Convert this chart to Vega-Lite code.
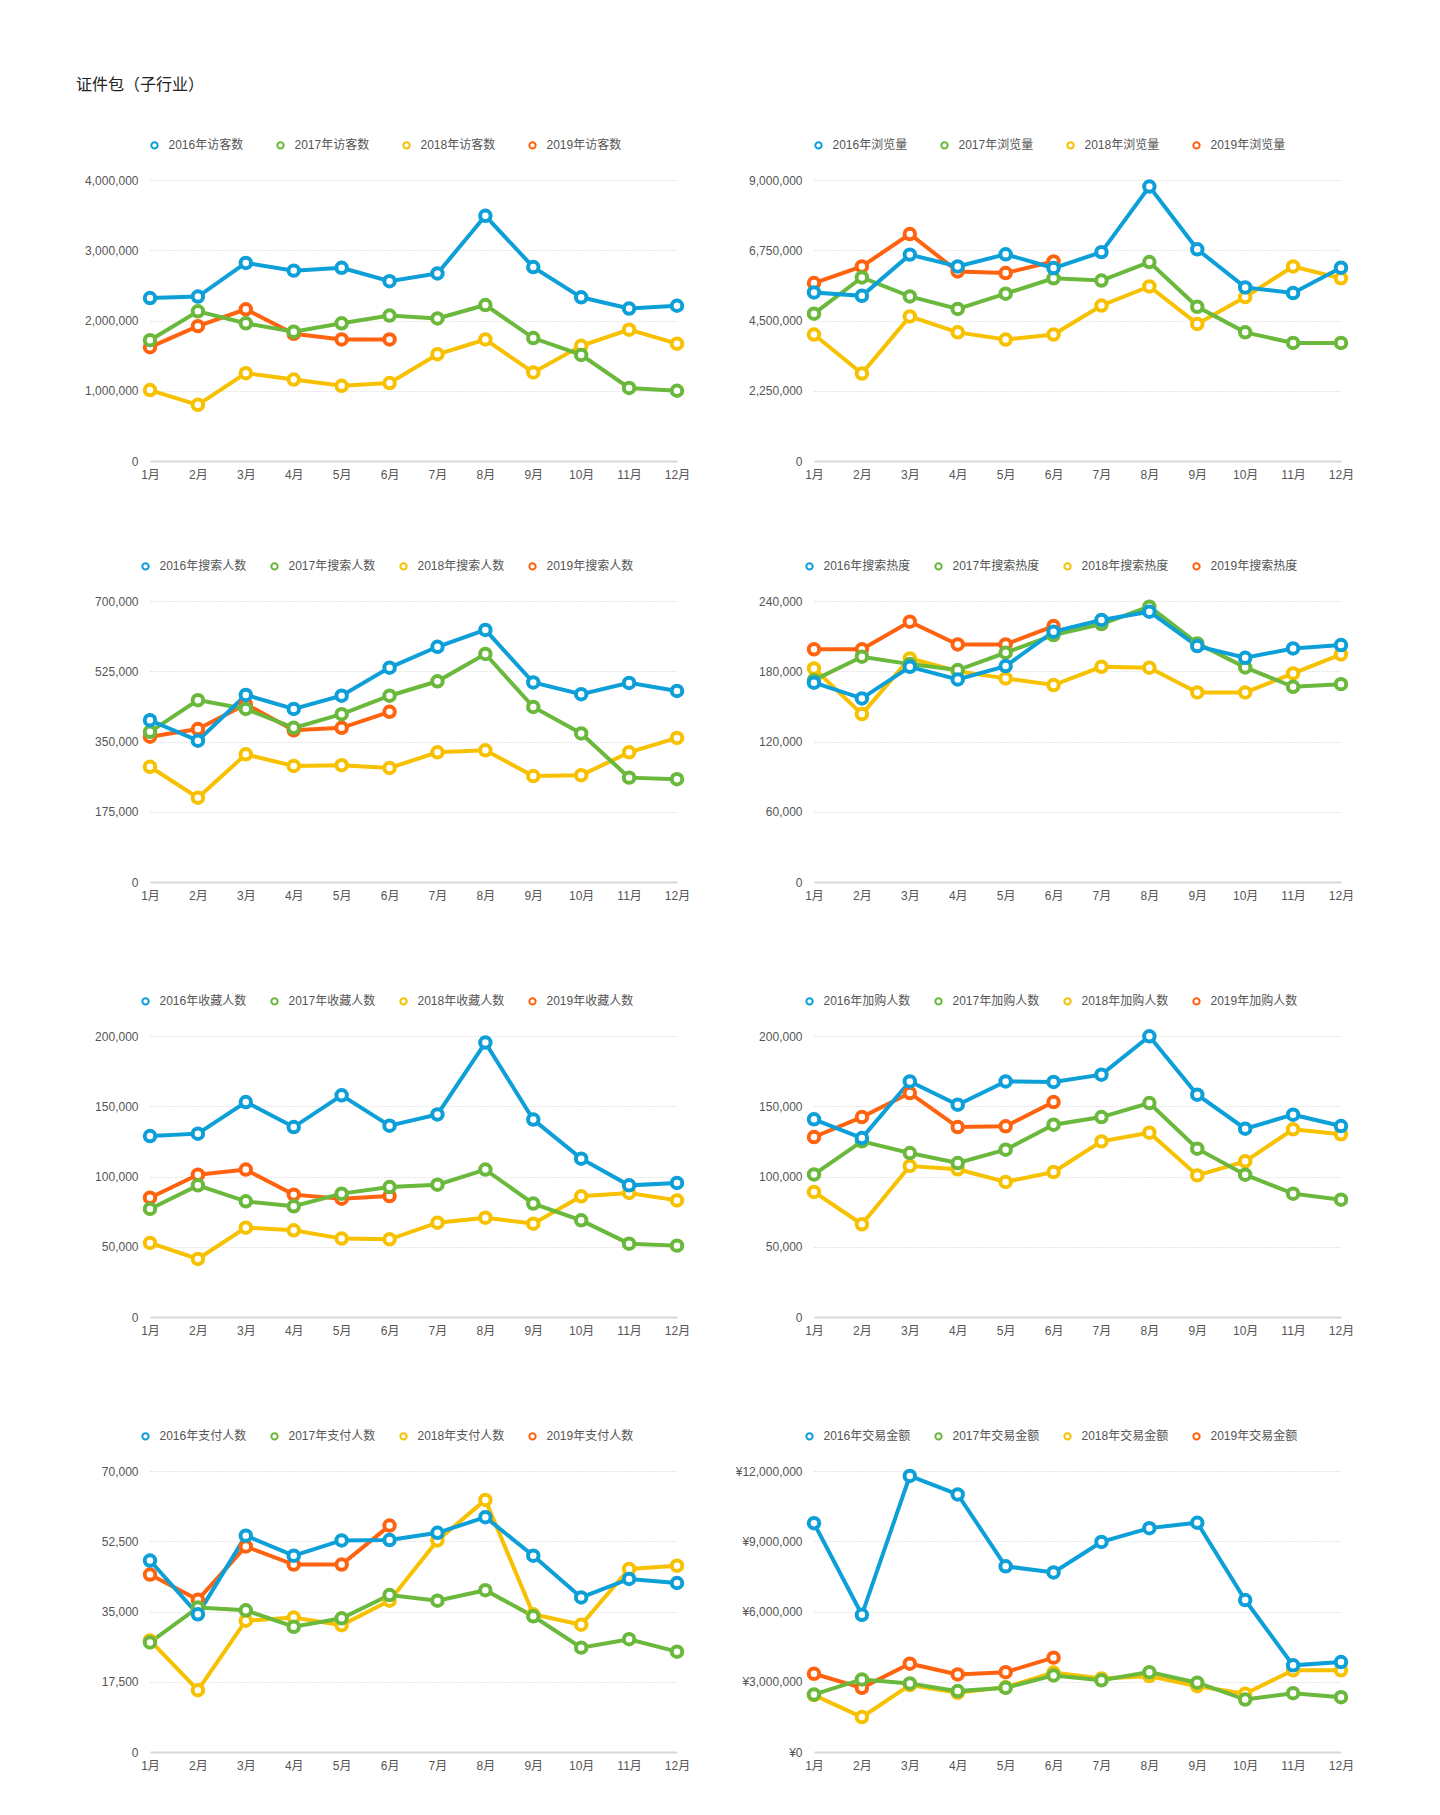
{
"$schema":"https://vega.github.io/schema/vega-lite/v6.json",
"background":"white",
"padding":{"left":76,"top":77,"right":10,"bottom":10},
"title":{"text":"证件包（子行业）","anchor":"start","frame":"group","fontSize":16,"fontWeight":"normal","color":"#222","offset":46,"dx":-74},
"datasets":{"d":[
{"chart":1,"series":"2019年访客数","month":1,"value":1620000},{"chart":1,"series":"2019年访客数","month":2,"value":1920000},{"chart":1,"series":"2019年访客数","month":3,"value":2160000},{"chart":1,"series":"2019年访客数","month":4,"value":1810000},{"chart":1,"series":"2019年访客数","month":5,"value":1730000},{"chart":1,"series":"2019年访客数","month":6,"value":1730000},
{"chart":1,"series":"2018年访客数","month":1,"value":1010000},{"chart":1,"series":"2018年访客数","month":2,"value":800000},{"chart":1,"series":"2018年访客数","month":3,"value":1250000},{"chart":1,"series":"2018年访客数","month":4,"value":1160000},{"chart":1,"series":"2018年访客数","month":5,"value":1070000},{"chart":1,"series":"2018年访客数","month":6,"value":1110000},{"chart":1,"series":"2018年访客数","month":7,"value":1520000},{"chart":1,"series":"2018年访客数","month":8,"value":1730000},{"chart":1,"series":"2018年访客数","month":9,"value":1260000},{"chart":1,"series":"2018年访客数","month":10,"value":1640000},{"chart":1,"series":"2018年访客数","month":11,"value":1870000},{"chart":1,"series":"2018年访客数","month":12,"value":1670000},
{"chart":1,"series":"2017年访客数","month":1,"value":1720000},{"chart":1,"series":"2017年访客数","month":2,"value":2130000},{"chart":1,"series":"2017年访客数","month":3,"value":1960000},{"chart":1,"series":"2017年访客数","month":4,"value":1840000},{"chart":1,"series":"2017年访客数","month":5,"value":1960000},{"chart":1,"series":"2017年访客数","month":6,"value":2070000},{"chart":1,"series":"2017年访客数","month":7,"value":2030000},{"chart":1,"series":"2017年访客数","month":8,"value":2220000},{"chart":1,"series":"2017年访客数","month":9,"value":1750000},{"chart":1,"series":"2017年访客数","month":10,"value":1510000},{"chart":1,"series":"2017年访客数","month":11,"value":1040000},{"chart":1,"series":"2017年访客数","month":12,"value":1000000},
{"chart":1,"series":"2016年访客数","month":1,"value":2320000},{"chart":1,"series":"2016年访客数","month":2,"value":2340000},{"chart":1,"series":"2016年访客数","month":3,"value":2820000},{"chart":1,"series":"2016年访客数","month":4,"value":2710000},{"chart":1,"series":"2016年访客数","month":5,"value":2750000},{"chart":1,"series":"2016年访客数","month":6,"value":2560000},{"chart":1,"series":"2016年访客数","month":7,"value":2670000},{"chart":1,"series":"2016年访客数","month":8,"value":3490000},{"chart":1,"series":"2016年访客数","month":9,"value":2760000},{"chart":1,"series":"2016年访客数","month":10,"value":2330000},{"chart":1,"series":"2016年访客数","month":11,"value":2170000},{"chart":1,"series":"2016年访客数","month":12,"value":2210000},
{"chart":2,"series":"2019年浏览量","month":1,"value":5700000},{"chart":2,"series":"2019年浏览量","month":2,"value":6230000},{"chart":2,"series":"2019年浏览量","month":3,"value":7270000},{"chart":2,"series":"2019年浏览量","month":4,"value":6070000},{"chart":2,"series":"2019年浏览量","month":5,"value":6020000},{"chart":2,"series":"2019年浏览量","month":6,"value":6390000},
{"chart":2,"series":"2018年浏览量","month":1,"value":4050000},{"chart":2,"series":"2018年浏览量","month":2,"value":2800000},{"chart":2,"series":"2018年浏览量","month":3,"value":4630000},{"chart":2,"series":"2018年浏览量","month":4,"value":4120000},{"chart":2,"series":"2018年浏览量","month":5,"value":3890000},{"chart":2,"series":"2018年浏览量","month":6,"value":4050000},{"chart":2,"series":"2018年浏览量","month":7,"value":4980000},{"chart":2,"series":"2018年浏览量","month":8,"value":5590000},{"chart":2,"series":"2018年浏览量","month":9,"value":4390000},{"chart":2,"series":"2018年浏览量","month":10,"value":5250000},{"chart":2,"series":"2018年浏览量","month":11,"value":6230000},{"chart":2,"series":"2018年浏览量","month":12,"value":5850000},
{"chart":2,"series":"2017年浏览量","month":1,"value":4720000},{"chart":2,"series":"2017年浏览量","month":2,"value":5880000},{"chart":2,"series":"2017年浏览量","month":3,"value":5270000},{"chart":2,"series":"2017年浏览量","month":4,"value":4870000},{"chart":2,"series":"2017年浏览量","month":5,"value":5360000},{"chart":2,"series":"2017年浏览量","month":6,"value":5850000},{"chart":2,"series":"2017年浏览量","month":7,"value":5780000},{"chart":2,"series":"2017年浏览量","month":8,"value":6370000},{"chart":2,"series":"2017年浏览量","month":9,"value":4940000},{"chart":2,"series":"2017年浏览量","month":10,"value":4120000},{"chart":2,"series":"2017年浏览量","month":11,"value":3780000},{"chart":2,"series":"2017年浏览量","month":12,"value":3780000},
{"chart":2,"series":"2016年浏览量","month":1,"value":5400000},{"chart":2,"series":"2016年浏览量","month":2,"value":5290000},{"chart":2,"series":"2016年浏览量","month":3,"value":6610000},{"chart":2,"series":"2016年浏览量","month":4,"value":6230000},{"chart":2,"series":"2016年浏览量","month":5,"value":6620000},{"chart":2,"series":"2016年浏览量","month":6,"value":6180000},{"chart":2,"series":"2016年浏览量","month":7,"value":6690000},{"chart":2,"series":"2016年浏览量","month":8,"value":8790000},{"chart":2,"series":"2016年浏览量","month":9,"value":6780000},{"chart":2,"series":"2016年浏览量","month":10,"value":5560000},{"chart":2,"series":"2016年浏览量","month":11,"value":5380000},{"chart":2,"series":"2016年浏览量","month":12,"value":6190000},
{"chart":3,"series":"2019年搜索人数","month":1,"value":362000},{"chart":3,"series":"2019年搜索人数","month":2,"value":381000},{"chart":3,"series":"2019年搜索人数","month":3,"value":443000},{"chart":3,"series":"2019年搜索人数","month":4,"value":378000},{"chart":3,"series":"2019年搜索人数","month":5,"value":384000},{"chart":3,"series":"2019年搜索人数","month":6,"value":424000},
{"chart":3,"series":"2018年搜索人数","month":1,"value":287000},{"chart":3,"series":"2018年搜索人数","month":2,"value":210000},{"chart":3,"series":"2018年搜索人数","month":3,"value":318000},{"chart":3,"series":"2018年搜索人数","month":4,"value":289000},{"chart":3,"series":"2018年搜索人数","month":5,"value":291000},{"chart":3,"series":"2018年搜索人数","month":6,"value":284000},{"chart":3,"series":"2018年搜索人数","month":7,"value":323000},{"chart":3,"series":"2018年搜索人数","month":8,"value":328000},{"chart":3,"series":"2018年搜索人数","month":9,"value":264000},{"chart":3,"series":"2018年搜索人数","month":10,"value":266000},{"chart":3,"series":"2018年搜索人数","month":11,"value":323000},{"chart":3,"series":"2018年搜索人数","month":12,"value":359000},
{"chart":3,"series":"2017年搜索人数","month":1,"value":374000},{"chart":3,"series":"2017年搜索人数","month":2,"value":453000},{"chart":3,"series":"2017年搜索人数","month":3,"value":431000},{"chart":3,"series":"2017年搜索人数","month":4,"value":384000},{"chart":3,"series":"2017年搜索人数","month":5,"value":418000},{"chart":3,"series":"2017年搜索人数","month":6,"value":464000},{"chart":3,"series":"2017年搜索人数","month":7,"value":500000},{"chart":3,"series":"2017年搜索人数","month":8,"value":568000},{"chart":3,"series":"2017年搜索人数","month":9,"value":436000},{"chart":3,"series":"2017年搜索人数","month":10,"value":370000},{"chart":3,"series":"2017年搜索人数","month":11,"value":260000},{"chart":3,"series":"2017年搜索人数","month":12,"value":256000},
{"chart":3,"series":"2016年搜索人数","month":1,"value":403000},{"chart":3,"series":"2016年搜索人数","month":2,"value":352000},{"chart":3,"series":"2016年搜索人数","month":3,"value":466000},{"chart":3,"series":"2016年搜索人数","month":4,"value":431000},{"chart":3,"series":"2016年搜索人数","month":5,"value":464000},{"chart":3,"series":"2016年搜索人数","month":6,"value":534000},{"chart":3,"series":"2016年搜索人数","month":7,"value":586000},{"chart":3,"series":"2016年搜索人数","month":8,"value":628000},{"chart":3,"series":"2016年搜索人数","month":9,"value":497000},{"chart":3,"series":"2016年搜索人数","month":10,"value":468000},{"chart":3,"series":"2016年搜索人数","month":11,"value":496000},{"chart":3,"series":"2016年搜索人数","month":12,"value":476000},
{"chart":4,"series":"2019年搜索热度","month":1,"value":198700},{"chart":4,"series":"2019年搜索热度","month":2,"value":198700},{"chart":4,"series":"2019年搜索热度","month":3,"value":222300},{"chart":4,"series":"2019年搜索热度","month":4,"value":202900},{"chart":4,"series":"2019年搜索热度","month":5,"value":202900},{"chart":4,"series":"2019年搜索热度","month":6,"value":218600},
{"chart":4,"series":"2018年搜索热度","month":1,"value":182400},{"chart":4,"series":"2018年搜索热度","month":2,"value":143400},{"chart":4,"series":"2018年搜索热度","month":3,"value":191000},{"chart":4,"series":"2018年搜索热度","month":4,"value":180000},{"chart":4,"series":"2018年搜索热度","month":5,"value":173900},{"chart":4,"series":"2018年搜索热度","month":6,"value":168200},{"chart":4,"series":"2018年搜索热度","month":7,"value":183800},{"chart":4,"series":"2018年搜索热度","month":8,"value":183000},{"chart":4,"series":"2018年搜索热度","month":9,"value":161900},{"chart":4,"series":"2018年搜索热度","month":10,"value":161900},{"chart":4,"series":"2018年搜索热度","month":11,"value":178100},{"chart":4,"series":"2018年搜索热度","month":12,"value":194400},
{"chart":4,"series":"2017年搜索热度","month":1,"value":172400},{"chart":4,"series":"2017年搜索热度","month":2,"value":192400},{"chart":4,"series":"2017年搜索热度","month":3,"value":186100},{"chart":4,"series":"2017年搜索热度","month":4,"value":181000},{"chart":4,"series":"2017年搜索热度","month":5,"value":195800},{"chart":4,"series":"2017年搜索热度","month":6,"value":210900},{"chart":4,"series":"2017年搜索热度","month":7,"value":220300},{"chart":4,"series":"2017年搜索热度","month":8,"value":235200},{"chart":4,"series":"2017年搜索热度","month":9,"value":203800},{"chart":4,"series":"2017年搜索热度","month":10,"value":183300},{"chart":4,"series":"2017年搜索热度","month":11,"value":166700},{"chart":4,"series":"2017年搜索热度","month":12,"value":169000},
{"chart":4,"series":"2016年搜索热度","month":1,"value":170200},{"chart":4,"series":"2016年搜索热度","month":2,"value":156800},{"chart":4,"series":"2016年搜索热度","month":3,"value":183800},{"chart":4,"series":"2016年搜索热度","month":4,"value":173000},{"chart":4,"series":"2016年搜索热度","month":5,"value":184400},{"chart":4,"series":"2016年搜索热度","month":6,"value":213800},{"chart":4,"series":"2016年搜索热度","month":7,"value":223800},{"chart":4,"series":"2016年搜索热度","month":8,"value":230900},{"chart":4,"series":"2016年搜索热度","month":9,"value":201500},{"chart":4,"series":"2016年搜索热度","month":10,"value":191500},{"chart":4,"series":"2016年搜索热度","month":11,"value":199500},{"chart":4,"series":"2016年搜索热度","month":12,"value":202400},
{"chart":5,"series":"2019年收藏人数","month":1,"value":84900},{"chart":5,"series":"2019年收藏人数","month":2,"value":101300},{"chart":5,"series":"2019年收藏人数","month":3,"value":104900},{"chart":5,"series":"2019年收藏人数","month":4,"value":87100},{"chart":5,"series":"2019年收藏人数","month":5,"value":84200},{"chart":5,"series":"2019年收藏人数","month":6,"value":86100},
{"chart":5,"series":"2018年收藏人数","month":1,"value":52700},{"chart":5,"series":"2018年收藏人数","month":2,"value":41300},{"chart":5,"series":"2018年收藏人数","month":3,"value":63600},{"chart":5,"series":"2018年收藏人数","month":4,"value":61700},{"chart":5,"series":"2018年收藏人数","month":5,"value":55800},{"chart":5,"series":"2018年收藏人数","month":6,"value":55300},{"chart":5,"series":"2018年收藏人数","month":7,"value":67100},{"chart":5,"series":"2018年收藏人数","month":8,"value":70700},{"chart":5,"series":"2018年收藏人数","month":9,"value":66400},{"chart":5,"series":"2018年收藏人数","month":10,"value":85900},{"chart":5,"series":"2018年收藏人数","month":11,"value":88300},{"chart":5,"series":"2018年收藏人数","month":12,"value":83000},
{"chart":5,"series":"2017年收藏人数","month":1,"value":76900},{"chart":5,"series":"2017年收藏人数","month":2,"value":93700},{"chart":5,"series":"2017年收藏人数","month":3,"value":82300},{"chart":5,"series":"2017年收藏人数","month":4,"value":78800},{"chart":5,"series":"2017年收藏人数","month":5,"value":87800},{"chart":5,"series":"2017年收藏人数","month":6,"value":92500},{"chart":5,"series":"2017年收藏人数","month":7,"value":94200},{"chart":5,"series":"2017年收藏人数","month":8,"value":104900},{"chart":5,"series":"2017年收藏人数","month":9,"value":80700},{"chart":5,"series":"2017年收藏人数","month":10,"value":68800},{"chart":5,"series":"2017年收藏人数","month":11,"value":52200},{"chart":5,"series":"2017年收藏人数","month":12,"value":50800},
{"chart":5,"series":"2016年收藏人数","month":1,"value":128800},{"chart":5,"series":"2016年收藏人数","month":2,"value":130500},{"chart":5,"series":"2016年收藏人数","month":3,"value":153000},{"chart":5,"series":"2016年收藏人数","month":4,"value":135200},{"chart":5,"series":"2016年收藏人数","month":5,"value":157800},{"chart":5,"series":"2016年收藏人数","month":6,"value":136200},{"chart":5,"series":"2016年收藏人数","month":7,"value":144200},{"chart":5,"series":"2016年收藏人数","month":8,"value":195300},{"chart":5,"series":"2016年收藏人数","month":9,"value":140500},{"chart":5,"series":"2016年收藏人数","month":10,"value":112700},{"chart":5,"series":"2016年收藏人数","month":11,"value":93700},{"chart":5,"series":"2016年收藏人数","month":12,"value":95400},
{"chart":6,"series":"2019年加购人数","month":1,"value":128100},{"chart":6,"series":"2019年加购人数","month":2,"value":142300},{"chart":6,"series":"2019年加购人数","month":3,"value":159400},{"chart":6,"series":"2019年加购人数","month":4,"value":135200},{"chart":6,"series":"2019年加购人数","month":5,"value":135700},{"chart":6,"series":"2019年加购人数","month":6,"value":153000},
{"chart":6,"series":"2018年加购人数","month":1,"value":89000},{"chart":6,"series":"2018年加购人数","month":2,"value":66000},{"chart":6,"series":"2018年加购人数","month":3,"value":107500},{"chart":6,"series":"2018年加购人数","month":4,"value":105100},{"chart":6,"series":"2018年加购人数","month":5,"value":96100},{"chart":6,"series":"2018年加购人数","month":6,"value":103200},{"chart":6,"series":"2018年加购人数","month":7,"value":125000},{"chart":6,"series":"2018年加购人数","month":8,"value":131200},{"chart":6,"series":"2018年加购人数","month":9,"value":100800},{"chart":6,"series":"2018年加购人数","month":10,"value":110800},{"chart":6,"series":"2018年加购人数","month":11,"value":133600},{"chart":6,"series":"2018年加购人数","month":12,"value":130000},
{"chart":6,"series":"2017年加购人数","month":1,"value":101500},{"chart":6,"series":"2017年加购人数","month":2,"value":125000},{"chart":6,"series":"2017年加购人数","month":3,"value":116700},{"chart":6,"series":"2017年加购人数","month":4,"value":109600},{"chart":6,"series":"2017年加购人数","month":5,"value":119100},{"chart":6,"series":"2017年加购人数","month":6,"value":136900},{"chart":6,"series":"2017年加购人数","month":7,"value":142300},{"chart":6,"series":"2017年加购人数","month":8,"value":152300},{"chart":6,"series":"2017年加购人数","month":9,"value":119800},{"chart":6,"series":"2017年加购人数","month":10,"value":101300},{"chart":6,"series":"2017年加购人数","month":11,"value":87800},{"chart":6,"series":"2017年加购人数","month":12,"value":83500},
{"chart":6,"series":"2016年加购人数","month":1,"value":140700},{"chart":6,"series":"2016年加购人数","month":2,"value":127400},{"chart":6,"series":"2016年加购人数","month":3,"value":167700},{"chart":6,"series":"2016年加购人数","month":4,"value":151100},{"chart":6,"series":"2016年加购人数","month":5,"value":167700},{"chart":6,"series":"2016年加购人数","month":6,"value":167300},{"chart":6,"series":"2016年加购人数","month":7,"value":172500},{"chart":6,"series":"2016年加购人数","month":8,"value":199800},{"chart":6,"series":"2016年加购人数","month":9,"value":158200},{"chart":6,"series":"2016年加购人数","month":10,"value":134000},{"chart":6,"series":"2016年加购人数","month":11,"value":144000},{"chart":6,"series":"2016年加购人数","month":12,"value":135900},
{"chart":7,"series":"2019年支付人数","month":1,"value":44200},{"chart":7,"series":"2019年支付人数","month":2,"value":37900},{"chart":7,"series":"2019年支付人数","month":3,"value":51200},{"chart":7,"series":"2019年支付人数","month":4,"value":46700},{"chart":7,"series":"2019年支付人数","month":5,"value":46700},{"chart":7,"series":"2019年支付人数","month":6,"value":56400},
{"chart":7,"series":"2018年支付人数","month":1,"value":27800},{"chart":7,"series":"2018年支付人数","month":2,"value":15400},{"chart":7,"series":"2018年支付人数","month":3,"value":32700},{"chart":7,"series":"2018年支付人数","month":4,"value":33500},{"chart":7,"series":"2018年支付人数","month":5,"value":31600},{"chart":7,"series":"2018年支付人数","month":6,"value":37700},{"chart":7,"series":"2018年支付人数","month":7,"value":52700},{"chart":7,"series":"2018年支付人数","month":8,"value":62800},{"chart":7,"series":"2018年支付人数","month":9,"value":34300},{"chart":7,"series":"2018年支付人数","month":10,"value":31700},{"chart":7,"series":"2018年支付人数","month":11,"value":45600},{"chart":7,"series":"2018年支付人数","month":12,"value":46400},
{"chart":7,"series":"2017年支付人数","month":1,"value":27300},{"chart":7,"series":"2017年支付人数","month":2,"value":36000},{"chart":7,"series":"2017年支付人数","month":3,"value":35300},{"chart":7,"series":"2017年支付人数","month":4,"value":31200},{"chart":7,"series":"2017年支付人数","month":5,"value":33300},{"chart":7,"series":"2017年支付人数","month":6,"value":39100},{"chart":7,"series":"2017年支付人数","month":7,"value":37700},{"chart":7,"series":"2017年支付人数","month":8,"value":40300},{"chart":7,"series":"2017年支付人数","month":9,"value":33800},{"chart":7,"series":"2017年支付人数","month":10,"value":26000},{"chart":7,"series":"2017年支付人数","month":11,"value":28100},{"chart":7,"series":"2017年支付人数","month":12,"value":25000},
{"chart":7,"series":"2016年支付人数","month":1,"value":47700},{"chart":7,"series":"2016年支付人数","month":2,"value":34300},{"chart":7,"series":"2016年支付人数","month":3,"value":53900},{"chart":7,"series":"2016年支付人数","month":4,"value":48900},{"chart":7,"series":"2016年支付人数","month":5,"value":52700},{"chart":7,"series":"2016年支付人数","month":6,"value":52800},{"chart":7,"series":"2016年支付人数","month":7,"value":54600},{"chart":7,"series":"2016年支付人数","month":8,"value":58500},{"chart":7,"series":"2016年支付人数","month":9,"value":48900},{"chart":7,"series":"2016年支付人数","month":10,"value":38500},{"chart":7,"series":"2016年支付人数","month":11,"value":43100},{"chart":7,"series":"2016年支付人数","month":12,"value":42100},
{"chart":8,"series":"2019年交易金额","month":1,"value":3340000},{"chart":8,"series":"2019年交易金额","month":2,"value":2740000},{"chart":8,"series":"2019年交易金额","month":3,"value":3770000},{"chart":8,"series":"2019年交易金额","month":4,"value":3310000},{"chart":8,"series":"2019年交易金额","month":5,"value":3410000},{"chart":8,"series":"2019年交易金额","month":6,"value":4030000},
{"chart":8,"series":"2018年交易金额","month":1,"value":2430000},{"chart":8,"series":"2018年交易金额","month":2,"value":1490000},{"chart":8,"series":"2018年交易金额","month":3,"value":2860000},{"chart":8,"series":"2018年交易金额","month":4,"value":2530000},{"chart":8,"series":"2018年交易金额","month":5,"value":2770000},{"chart":8,"series":"2018年交易金额","month":6,"value":3390000},{"chart":8,"series":"2018年交易金额","month":7,"value":3140000},{"chart":8,"series":"2018年交易金额","month":8,"value":3240000},{"chart":8,"series":"2018年交易金额","month":9,"value":2810000},{"chart":8,"series":"2018年交易金额","month":10,"value":2490000},{"chart":8,"series":"2018年交易金额","month":11,"value":3490000},{"chart":8,"series":"2018年交易金额","month":12,"value":3490000},
{"chart":8,"series":"2017年交易金额","month":1,"value":2460000},{"chart":8,"series":"2017年交易金额","month":2,"value":3100000},{"chart":8,"series":"2017年交易金额","month":3,"value":2930000},{"chart":8,"series":"2017年交易金额","month":4,"value":2600000},{"chart":8,"series":"2017年交易金额","month":5,"value":2740000},{"chart":8,"series":"2017年交易金额","month":6,"value":3270000},{"chart":8,"series":"2017年交易金额","month":7,"value":3060000},{"chart":8,"series":"2017年交易金额","month":8,"value":3410000},{"chart":8,"series":"2017年交易金额","month":9,"value":2960000},{"chart":8,"series":"2017年交易金额","month":10,"value":2240000},{"chart":8,"series":"2017年交易金额","month":11,"value":2510000},{"chart":8,"series":"2017年交易金额","month":12,"value":2340000},
{"chart":8,"series":"2016年交易金额","month":1,"value":9770000},{"chart":8,"series":"2016年交易金额","month":2,"value":5860000},{"chart":8,"series":"2016年交易金额","month":3,"value":11790000},{"chart":8,"series":"2016年交易金额","month":4,"value":11000000},{"chart":8,"series":"2016年交易金额","month":5,"value":7930000},{"chart":8,"series":"2016年交易金额","month":6,"value":7670000},{"chart":8,"series":"2016年交易金额","month":7,"value":8970000},{"chart":8,"series":"2016年交易金额","month":8,"value":9560000},{"chart":8,"series":"2016年交易金额","month":9,"value":9790000},{"chart":8,"series":"2016年交易金额","month":10,"value":6490000},{"chart":8,"series":"2016年交易金额","month":11,"value":3700000},{"chart":8,"series":"2016年交易金额","month":12,"value":3840000}
]},
"data":{"name":"d"},
"spacing":79,
"resolve":{"scale":{"color":"independent","x":"independent","y":"independent"},"legend":{"color":"independent"}},
"vconcat":[
{"spacing":49,"resolve":{"scale":{"color":"independent","x":"independent","y":"independent"},"legend":{"color":"independent"}},
"hconcat":[
{"width":527,"height":281,"transform":[{"filter":"datum.chart == 1"}],
"encoding":{"x":{"field":"month","type":"quantitative","scale":{"domain":[1,12],"nice":false,"zero":false},"axis":{"values":[1,2,3,4,5,6,7,8,9,10,11,12],"labelExpr":"datum.value + '月'"}},
"y":{"field":"value","type":"quantitative","scale":{"domain":[0,4000000],"nice":false},"axis":{"values":[0,1000000,2000000,3000000,4000000],"format":",d"}},
"color":{"field":"series","type":"nominal","scale":{"range":["#0d9fd8","#6ab83c","#f7c100","#ff6310"]},"legend":{"title":null,"legendX":-1.5,"columnPadding":29}}},
"layer":[{"mark":{"type":"line","strokeWidth":4}},{"mark":{"type":"point","shape":"circle","filled":false,"fill":"white","size":110,"strokeWidth":4,"opacity":1}}]},
{"width":527,"height":281,"transform":[{"filter":"datum.chart == 2"}],
"encoding":{"x":{"field":"month","type":"quantitative","scale":{"domain":[1,12],"nice":false,"zero":false},"axis":{"values":[1,2,3,4,5,6,7,8,9,10,11,12],"labelExpr":"datum.value + '月'"}},
"y":{"field":"value","type":"quantitative","scale":{"domain":[0,9000000],"nice":false},"axis":{"values":[0,2250000,4500000,6750000,9000000],"format":",d"}},
"color":{"field":"series","type":"nominal","scale":{"range":["#0d9fd8","#6ab83c","#f7c100","#ff6310"]},"legend":{"title":null,"legendX":-1.5,"columnPadding":29}}},
"layer":[{"mark":{"type":"line","strokeWidth":4}},{"mark":{"type":"point","shape":"circle","filled":false,"fill":"white","size":110,"strokeWidth":4,"opacity":1}}]}
]},
{"spacing":93,"resolve":{"scale":{"color":"independent","x":"independent","y":"independent"},"legend":{"color":"independent"}},
"vconcat":[
{"spacing":49,"resolve":{"scale":{"color":"independent","x":"independent","y":"independent"},"legend":{"color":"independent"}},
"hconcat":[
{"width":527,"height":281,"transform":[{"filter":"datum.chart == 3"}],
"encoding":{"x":{"field":"month","type":"quantitative","scale":{"domain":[1,12],"nice":false,"zero":false},"axis":{"values":[1,2,3,4,5,6,7,8,9,10,11,12],"labelExpr":"datum.value + '月'"}},
"y":{"field":"value","type":"quantitative","scale":{"domain":[0,700000],"nice":false},"axis":{"values":[0,175000,350000,525000,700000],"format":",d"}},
"color":{"field":"series","type":"nominal","scale":{"range":["#0d9fd8","#6ab83c","#f7c100","#ff6310"]},"legend":{"title":null,"legendX":-10.5,"columnPadding":20}}},
"layer":[{"mark":{"type":"line","strokeWidth":4}},{"mark":{"type":"point","shape":"circle","filled":false,"fill":"white","size":110,"strokeWidth":4,"opacity":1}}]},
{"width":527,"height":281,"transform":[{"filter":"datum.chart == 4"}],
"encoding":{"x":{"field":"month","type":"quantitative","scale":{"domain":[1,12],"nice":false,"zero":false},"axis":{"values":[1,2,3,4,5,6,7,8,9,10,11,12],"labelExpr":"datum.value + '月'"}},
"y":{"field":"value","type":"quantitative","scale":{"domain":[0,240000],"nice":false},"axis":{"values":[0,60000,120000,180000,240000],"format":",d"}},
"color":{"field":"series","type":"nominal","scale":{"range":["#0d9fd8","#6ab83c","#f7c100","#ff6310"]},"legend":{"title":null,"legendX":-10.5,"columnPadding":20}}},
"layer":[{"mark":{"type":"line","strokeWidth":4}},{"mark":{"type":"point","shape":"circle","filled":false,"fill":"white","size":110,"strokeWidth":4,"opacity":1}}]}
]},
{"spacing":49,"resolve":{"scale":{"color":"independent","x":"independent","y":"independent"},"legend":{"color":"independent"}},
"hconcat":[
{"width":527,"height":281,"transform":[{"filter":"datum.chart == 5"}],
"encoding":{"x":{"field":"month","type":"quantitative","scale":{"domain":[1,12],"nice":false,"zero":false},"axis":{"values":[1,2,3,4,5,6,7,8,9,10,11,12],"labelExpr":"datum.value + '月'"}},
"y":{"field":"value","type":"quantitative","scale":{"domain":[0,200000],"nice":false},"axis":{"values":[0,50000,100000,150000,200000],"format":",d"}},
"color":{"field":"series","type":"nominal","scale":{"range":["#0d9fd8","#6ab83c","#f7c100","#ff6310"]},"legend":{"title":null,"legendX":-10.5,"columnPadding":20}}},
"layer":[{"mark":{"type":"line","strokeWidth":4}},{"mark":{"type":"point","shape":"circle","filled":false,"fill":"white","size":110,"strokeWidth":4,"opacity":1}}]},
{"width":527,"height":281,"transform":[{"filter":"datum.chart == 6"}],
"encoding":{"x":{"field":"month","type":"quantitative","scale":{"domain":[1,12],"nice":false,"zero":false},"axis":{"values":[1,2,3,4,5,6,7,8,9,10,11,12],"labelExpr":"datum.value + '月'"}},
"y":{"field":"value","type":"quantitative","scale":{"domain":[0,200000],"nice":false},"axis":{"values":[0,50000,100000,150000,200000],"format":",d"}},
"color":{"field":"series","type":"nominal","scale":{"range":["#0d9fd8","#6ab83c","#f7c100","#ff6310"]},"legend":{"title":null,"legendX":-10.5,"columnPadding":20}}},
"layer":[{"mark":{"type":"line","strokeWidth":4}},{"mark":{"type":"point","shape":"circle","filled":false,"fill":"white","size":110,"strokeWidth":4,"opacity":1}}]}
]},
{"spacing":44,"resolve":{"scale":{"color":"independent","x":"independent","y":"independent"},"legend":{"color":"independent"}},
"hconcat":[
{"width":527,"height":281,"transform":[{"filter":"datum.chart == 7"}],
"encoding":{"x":{"field":"month","type":"quantitative","scale":{"domain":[1,12],"nice":false,"zero":false},"axis":{"values":[1,2,3,4,5,6,7,8,9,10,11,12],"labelExpr":"datum.value + '月'"}},
"y":{"field":"value","type":"quantitative","scale":{"domain":[0,70000],"nice":false},"axis":{"values":[0,17500,35000,52500,70000],"format":",d"}},
"color":{"field":"series","type":"nominal","scale":{"range":["#0d9fd8","#6ab83c","#f7c100","#ff6310"]},"legend":{"title":null,"legendX":-10.5,"columnPadding":20}}},
"layer":[{"mark":{"type":"line","strokeWidth":4}},{"mark":{"type":"point","shape":"circle","filled":false,"fill":"white","size":110,"strokeWidth":4,"opacity":1}}]},
{"width":527,"height":281,"transform":[{"filter":"datum.chart == 8"}],
"encoding":{"x":{"field":"month","type":"quantitative","scale":{"domain":[1,12],"nice":false,"zero":false},"axis":{"values":[1,2,3,4,5,6,7,8,9,10,11,12],"labelExpr":"datum.value + '月'"}},
"y":{"field":"value","type":"quantitative","scale":{"domain":[0,12000000],"nice":false},"axis":{"values":[0,3000000,6000000,9000000,12000000],"labelExpr":"'¥' + format(datum.value, ',d')"}},
"color":{"field":"series","type":"nominal","scale":{"range":["#0d9fd8","#6ab83c","#f7c100","#ff6310"]},"legend":{"title":null,"legendX":-10.5,"columnPadding":20}}},
"layer":[{"mark":{"type":"line","strokeWidth":4}},{"mark":{"type":"point","shape":"circle","filled":false,"fill":"white","size":110,"strokeWidth":4,"opacity":1}}]}
]}
]}
],
"config":{
"view":{"stroke":null},
"font":"Liberation Sans, Noto Sans CJK SC",
"axisX":{"domain":true,"domainColor":"#d9d9d9","domainWidth":2,"ticks":false,"grid":false,"labelPadding":8,"labelFontSize":12,"labelColor":"#555","labelFlush":false,"title":null,"minExtent":20,"maxExtent":20,"labelAngle":0},
"axisY":{"domain":false,"ticks":false,"grid":true,"gridColor":"#cfcfcf","gridDash":[1,2],"gridWidth":1,"labelPadding":12,"labelFontSize":12,"labelColor":"#555","title":null,"minExtent":74,"maxExtent":74},
"legend":{"orient":"none","direction":"horizontal","legendY":-41,"padding":0,"labelFontSize":12,"labelColor":"#555","symbolType":"circle","symbolSize":40,"symbolStrokeWidth":2,"symbolFillColor":"white","labelOffset":8,"rowPadding":0}
}
}
